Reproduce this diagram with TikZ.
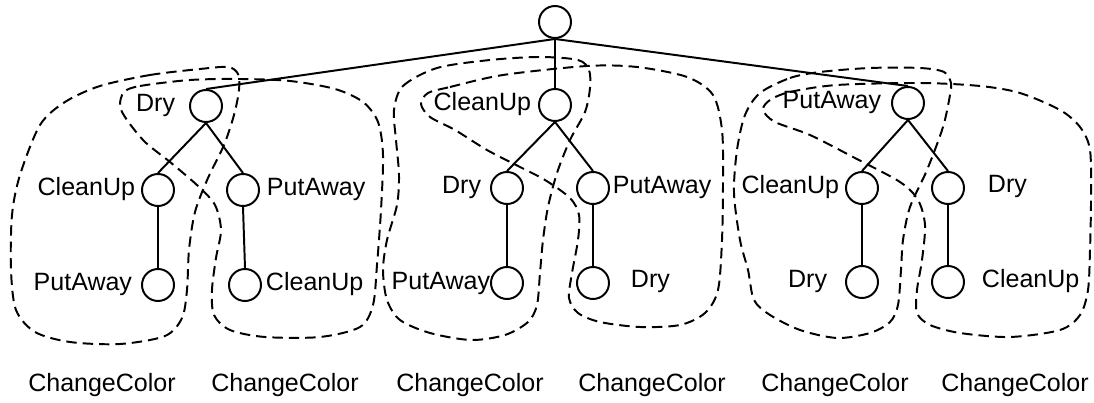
\documentclass[tikz,border=0pt]{standalone}
\usepackage{fontspec}
\setmainfont{Liberation Sans}

\tikzset{
  state/.style={circle,draw,line width=1.4pt,minimum size=8mm,inner sep=0pt},
  lbl/.style={inner sep=0pt,font=\fontsize{17.8}{20}\selectfont},
  blob/.style={line width=1.4pt,dash pattern=on 2.6mm off 1.5mm}
}

\begin{document}
\begin{tikzpicture}[x=0.25mm,y=-0.25mm,line width=1.4pt]
   \useasboundingbox (0,0) rectangle (1094,403);
   \node[state] (root) at (555,22) {};
   % Dry first
   \begin{scope}
    \node[state] (g1) at (206,106) {};
    \node[state] (g1l) at (158,190) {};
    \node[state] (g1r) at (243,190) {};
    \node[state] (g1ll) at (158,285) {};
    \node[state] (g1rr) at (245,285) {};
    \node[lbl,anchor=base east] (t1) at (176,112) {Dry};
    \node[lbl,anchor=base east] (t1l) at (136,196) {CleanUp};
    \node[lbl,anchor=base west] (t1r) at (266,196) {PutAway};
    \node[lbl,anchor=base east] (t1ll) at (133,291) {PutAway};
    \node[lbl,anchor=base west] (t1rr) at (265,291) {CleanUp};
    \draw[blob] plot[smooth cycle] coordinates {(100,86) (150,75) (200,69) (228,67) (238,74)
      (239,90) (234,115) (224,145) (208,178) (195,212) (189,250) (187,290) (182,318)
      (165,336) (120,344) (70,342) (35,332) (16,310) (11,270) (12,215) (20,175) (40,125) (65,102)};
    \draw[blob] plot[smooth cycle] coordinates {(124,92) (140,86) (190,80) (240,79) (290,81)
      (335,89) (363,102) (378,122) (383,155) (381,210) (377,265) (373,305) (360,327) (320,337)
      (265,337) (230,330) (214,315) (212,290) (216,258) (221,230) (215,205) (198,186) (170,162)
      (145,142) (127,120) (120,106)};
   \end{scope}
   % CleanUp first
   \begin{scope}
    \node[state] (g2) at (555,105) {};
    \node[state] (g2l) at (507,188) {};
    \node[state] (g2r) at (593,188) {};
    \node[state] (g2ll) at (507,283) {};
    \node[state] (g2rr) at (593,283) {};
    \node[lbl,anchor=base east] (t2) at (532,111) {CleanUp};
    \node[lbl,anchor=base east] (t2l) at (482,194) {Dry};
    \node[lbl,anchor=base west] (t2r) at (612,194) {PutAway};
    \node[lbl,anchor=base east] (t2ll) at (491,290) {PutAway};
    \node[lbl,anchor=base west] (t2rr) at (630,288) {Dry};
    \draw[blob] plot[smooth cycle] coordinates {(394,110) (403,86) (437,68) (490,60) (540,57)
      (578,60) (589,70) (590,88) (585,112) (570,140) (557,173) (548,207) (543,240) (540,273)
      (537,305) (528,322) (505,335) (471,340) (430,333) (400,320) (387,300) (383,270) (387,240)
      (397,205) (399,175) (396,140)};
    \draw[blob] plot[smooth cycle] coordinates {(428,93) (450,87) (503,75) (587,66) (637,67)
      (687,77) (713,95) (722,130) (723,180) (722,240) (718,290) (705,313) (680,325) (640,327)
      (600,322) (578,313) (569,298) (572,273) (578,240) (579,215) (570,198) (545,180) (520,167)
      (487,150) (455,130) (430,117) (421,104)};
   \end{scope}
   % PutAway first
   \begin{scope}
    \node[state] (g3) at (908,103) {};
    \node[state] (g3l) at (862,188) {};
    \node[state] (g3r) at (948,188) {};
    \node[state] (g3ll) at (862,282) {};
    \node[state] (g3rr) at (948,282) {};
    \node[lbl,anchor=base east] (t3) at (882,109) {PutAway};
    \node[lbl,anchor=base east] (t3l) at (840,194) {CleanUp};
    \node[lbl,anchor=base west] (t3r) at (987,193) {Dry};
    \node[lbl,anchor=base east] (t3ll) at (828,288) {Dry};
    \node[lbl,anchor=base west] (t3rr) at (981,288) {CleanUp};
    \draw[blob] plot[smooth cycle] coordinates {(760,93) (790,78) (820,72) (870,68) (920,68)
      (944,72) (951,83) (950,95) (943,127) (927,170) (910,207) (903,240) (901,270) (898,305)
      (890,322) (870,333) (837,338) (800,330) (770,315) (754,300) (748,270) (740,240) (734,193)
      (737,150) (745,115)};
    \draw[blob] plot[smooth cycle] coordinates {(770,100) (790,92) (837,85) (920,83) (980,86)
      (1020,93) (1060,110) (1080,127) (1090,150) (1091,200) (1090,250) (1088,290) (1080,315)
      (1060,330) (1010,337) (960,333) (930,325) (917,313) (917,290) (922,260) (925,225) (918,200)
      (900,182) (853,157) (810,135) (775,122) (763,110)};
   \end{scope}
   \foreach \a/\b in {root/g1,root/g2,root/g3,g1/g1l,g1/g1r,g1l/g1ll,g1r/g1rr,
                      g2/g2l,g2/g2r,g2l/g2ll,g2r/g2rr,g3/g3l,g3/g3r,g3l/g3ll,g3r/g3rr}
     \draw (\a.south) -- (\b.north);
   \foreach \x [count=\i] in {102,285,470,652,835,1015}
     \node[lbl,anchor=base] (cc\i) at (\x,392) {ChangeColor};
\end{tikzpicture}
\end{document}
